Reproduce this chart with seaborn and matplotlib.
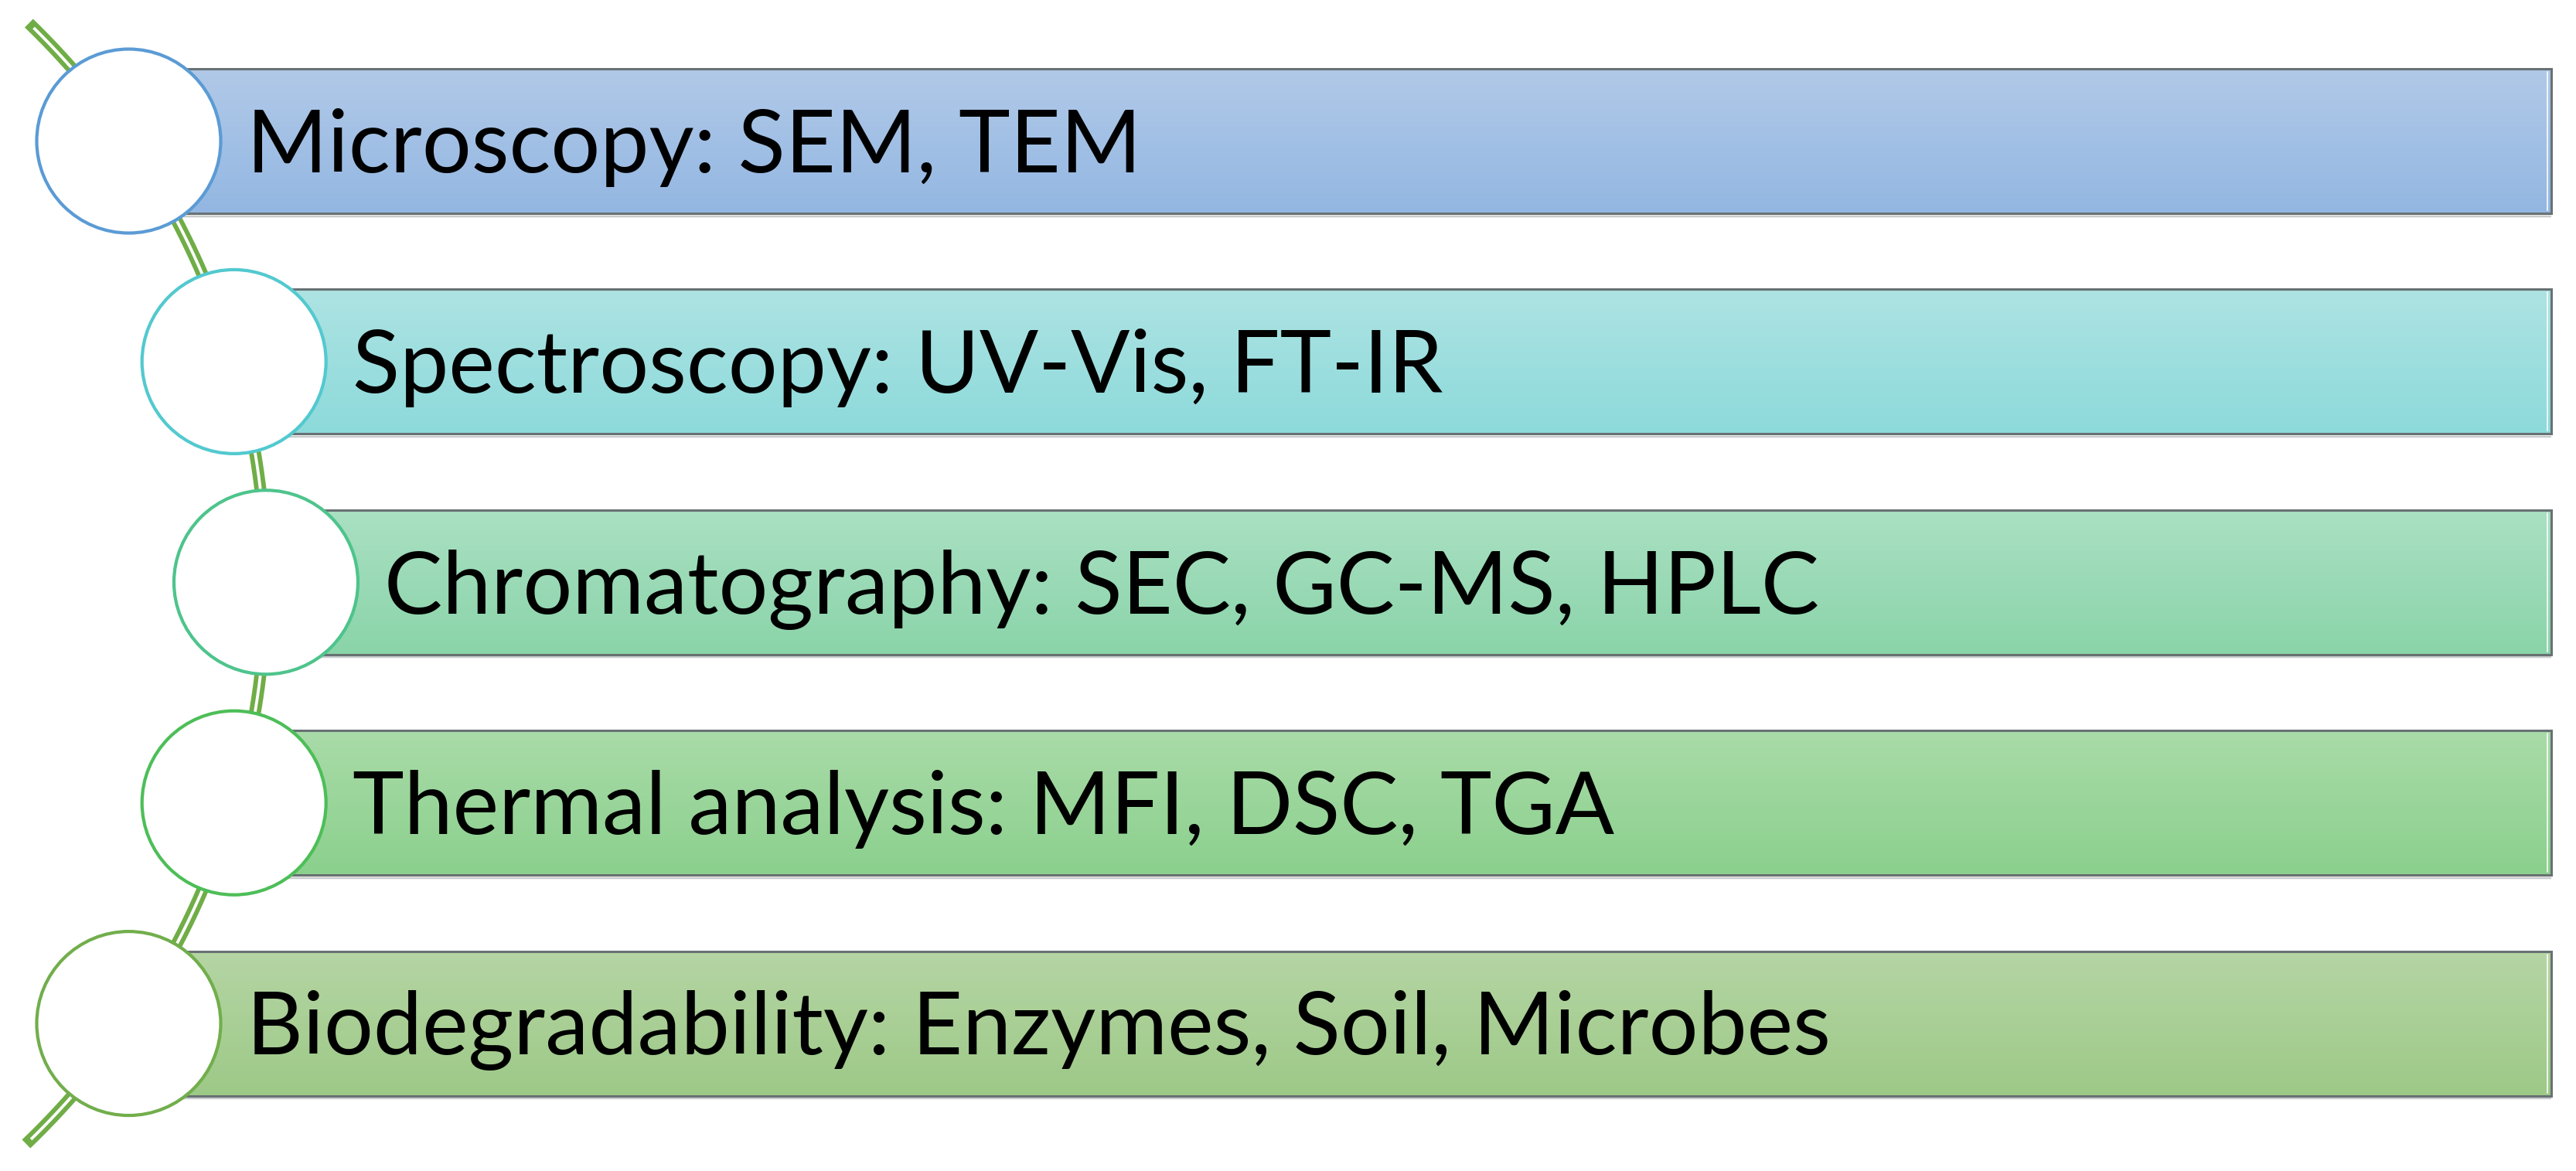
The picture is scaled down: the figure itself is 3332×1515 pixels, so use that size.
import numpy as np
import pandas as pd
import matplotlib
matplotlib.use("Agg")
import matplotlib.pyplot as plt
import seaborn as sns
from matplotlib.patches import Ellipse
from matplotlib.colors import to_rgb
from matplotlib.textpath import TextPath
from matplotlib.font_manager import FontProperties

# ---------------- data ----------------
categories = ["Microscopy", "Spectroscopy", "Chromatography",
              "Thermal analysis", "Biodegradability"]
techniques = ["SEM, TEM", "UV-Vis, FT-IR", "SEC, GC-MS, HPLC",
              "MFI, DSC, TGA", "Enzymes, Soil, Microbes"]
bar_extent = [1.0, 1.0, 1.0, 1.0, 1.0]   # every band runs to the right edge

# ---------------- styles ----------------
top_colors = ["#B1C9E8", "#AEE3E3", "#AAE0C3", "#A9DBA8", "#B5D5A4"]
bottom_colors = ["#93B7E2", "#8DDADB", "#8AD4A9", "#8BD08D", "#9DC987"]
circle_edges = ["#5B9BD5", "#52C9CF", "#4EC48C", "#4DBE58", "#72AE4C"]
connector_color = "#70AD47"
bar_edge = "#687173"

W, H, DPI = 3332, 1515, 100
PX = 72 / DPI                          # points per pixel
ROW0, ROWSTEP = 182.5, 285.4          # pixel centre of first band, band spacing
BAR_H = 187.0                         # band height in px
RIGHT = 3300.0                        # right end of bands in px
R_CIRC = 119.0                        # circle radius in px
ARC_R = 1006.5                        # radius of the connecting arc
ARC_X0 = 344.0 - ARC_R                # arc centre x
ARC_YC = ROW0 + 2 * ROWSTEP           # arc centre y


def py(p):
    """pixel y -> categorical row units"""
    return (np.asarray(p) - ROW0) / ROWSTEP


def arc_x(ypx):
    return ARC_X0 + np.sqrt(ARC_R ** 2 - (np.asarray(ypx) - ARC_YC) ** 2)


sns.set_theme(style="white")
plt.rcParams["font.family"] = ["Lato", "DejaVu Sans"]

fig = plt.figure(figsize=(W / DPI, H / DPI), dpi=DPI)
ax = fig.add_axes([0, 0, 1, 1])

labels = [f"{c}: {t}" for c, t in zip(categories, techniques)]
df = pd.DataFrame({"label": labels, "extent": np.array(bar_extent) * RIGHT})

sns.barplot(data=df, y="label", x="extent", orient="h", ax=ax,
            width=BAR_H / ROWSTEP, color="white", saturation=1,
            edgecolor=bar_edge, linewidth=2.2, zorder=3)

n = len(labels)
row_px = ROW0 + np.arange(n) * ROWSTEP
centers_x = arc_x(row_px)

for i, patch in enumerate(ax.patches[:n]):
    left = centers_x[i]
    right = patch.get_x() + patch.get_width()
    patch.set_x(left)
    patch.set_width(right - left)
    patch.set_facecolor("none")
    y0 = patch.get_y()
    y1 = y0 + patch.get_height()
    c0 = np.array(to_rgb(top_colors[i]))
    c1 = np.array(to_rgb(bottom_colors[i]))
    t = np.linspace(0, 1, 64)[:, None]
    grad = (c0 * (1 - t) + c1 * t)[:, None, :]
    im = ax.imshow(grad, extent=(left, right, y1, y0), origin="upper",
                   aspect="auto", zorder=2, interpolation="bilinear")
    im.set_clip_path(patch)
    # soft shadow under the band and highlight inside the right edge
    ax.plot([left, right], [y1 + 3.5 / ROWSTEP] * 2, color="#C9CCCD",
            lw=2.5 * PX, zorder=1.5, solid_capstyle="butt")
    ax.plot([right - 5, right - 5], [y0 + 4 / ROWSTEP, y1 - 4 / ROWSTEP],
            color="white", alpha=0.8, lw=2 * PX, zorder=2.5)

# connector (double green line)
ys = np.linspace(30, 1480, 400)
ax.plot(arc_x(ys), py(ys), color=connector_color, lw=15.5 * PX,
        solid_capstyle="butt", zorder=1)
ys2 = np.linspace(36, 1474, 400)
ax.plot(arc_x(ys2), py(ys2), color="white", lw=3.8 * PX,
        solid_capstyle="butt", zorder=1.1)

# circles
for i in range(n):
    e = Ellipse((centers_x[i], py(row_px[i])), width=2 * R_CIRC,
                height=2 * R_CIRC / ROWSTEP, facecolor="white",
                edgecolor=circle_edges[i], lw=4.2 * PX, zorder=6)
    ax.add_patch(e)

# text size fitted (least squares) to the label widths seen in the reference
fp = FontProperties(family="Lato")
ref_end_px = np.array([1466, 1840, 2316, 2082, 2416], dtype=float)
start_px = centers_x + R_CIRC + 34
ref_w = (ref_end_px - start_px) * PX
w100 = np.array([TextPath((0, 0), s, size=100, prop=fp).get_extents().x1
                 for s in labels])
fs = 100 * np.sum(ref_w * w100) / np.sum(w100 ** 2)
cap_pt = TextPath((0, 0), "M", size=fs, prop=fp).get_extents().height
cap_px = cap_pt / PX

for i in range(n):
    ax.text(start_px[i], py(row_px[i] + cap_px / 2), labels[i],
            fontsize=fs, fontfamily=["Lato", "DejaVu Sans"], color="black",
            va="baseline", ha="left", zorder=7)

ax.set_xlim(0, W)
ax.set_ylim(py(H), py(0))
ax.axis("off")
fig.savefig("out.png", dpi=DPI, facecolor="white")
